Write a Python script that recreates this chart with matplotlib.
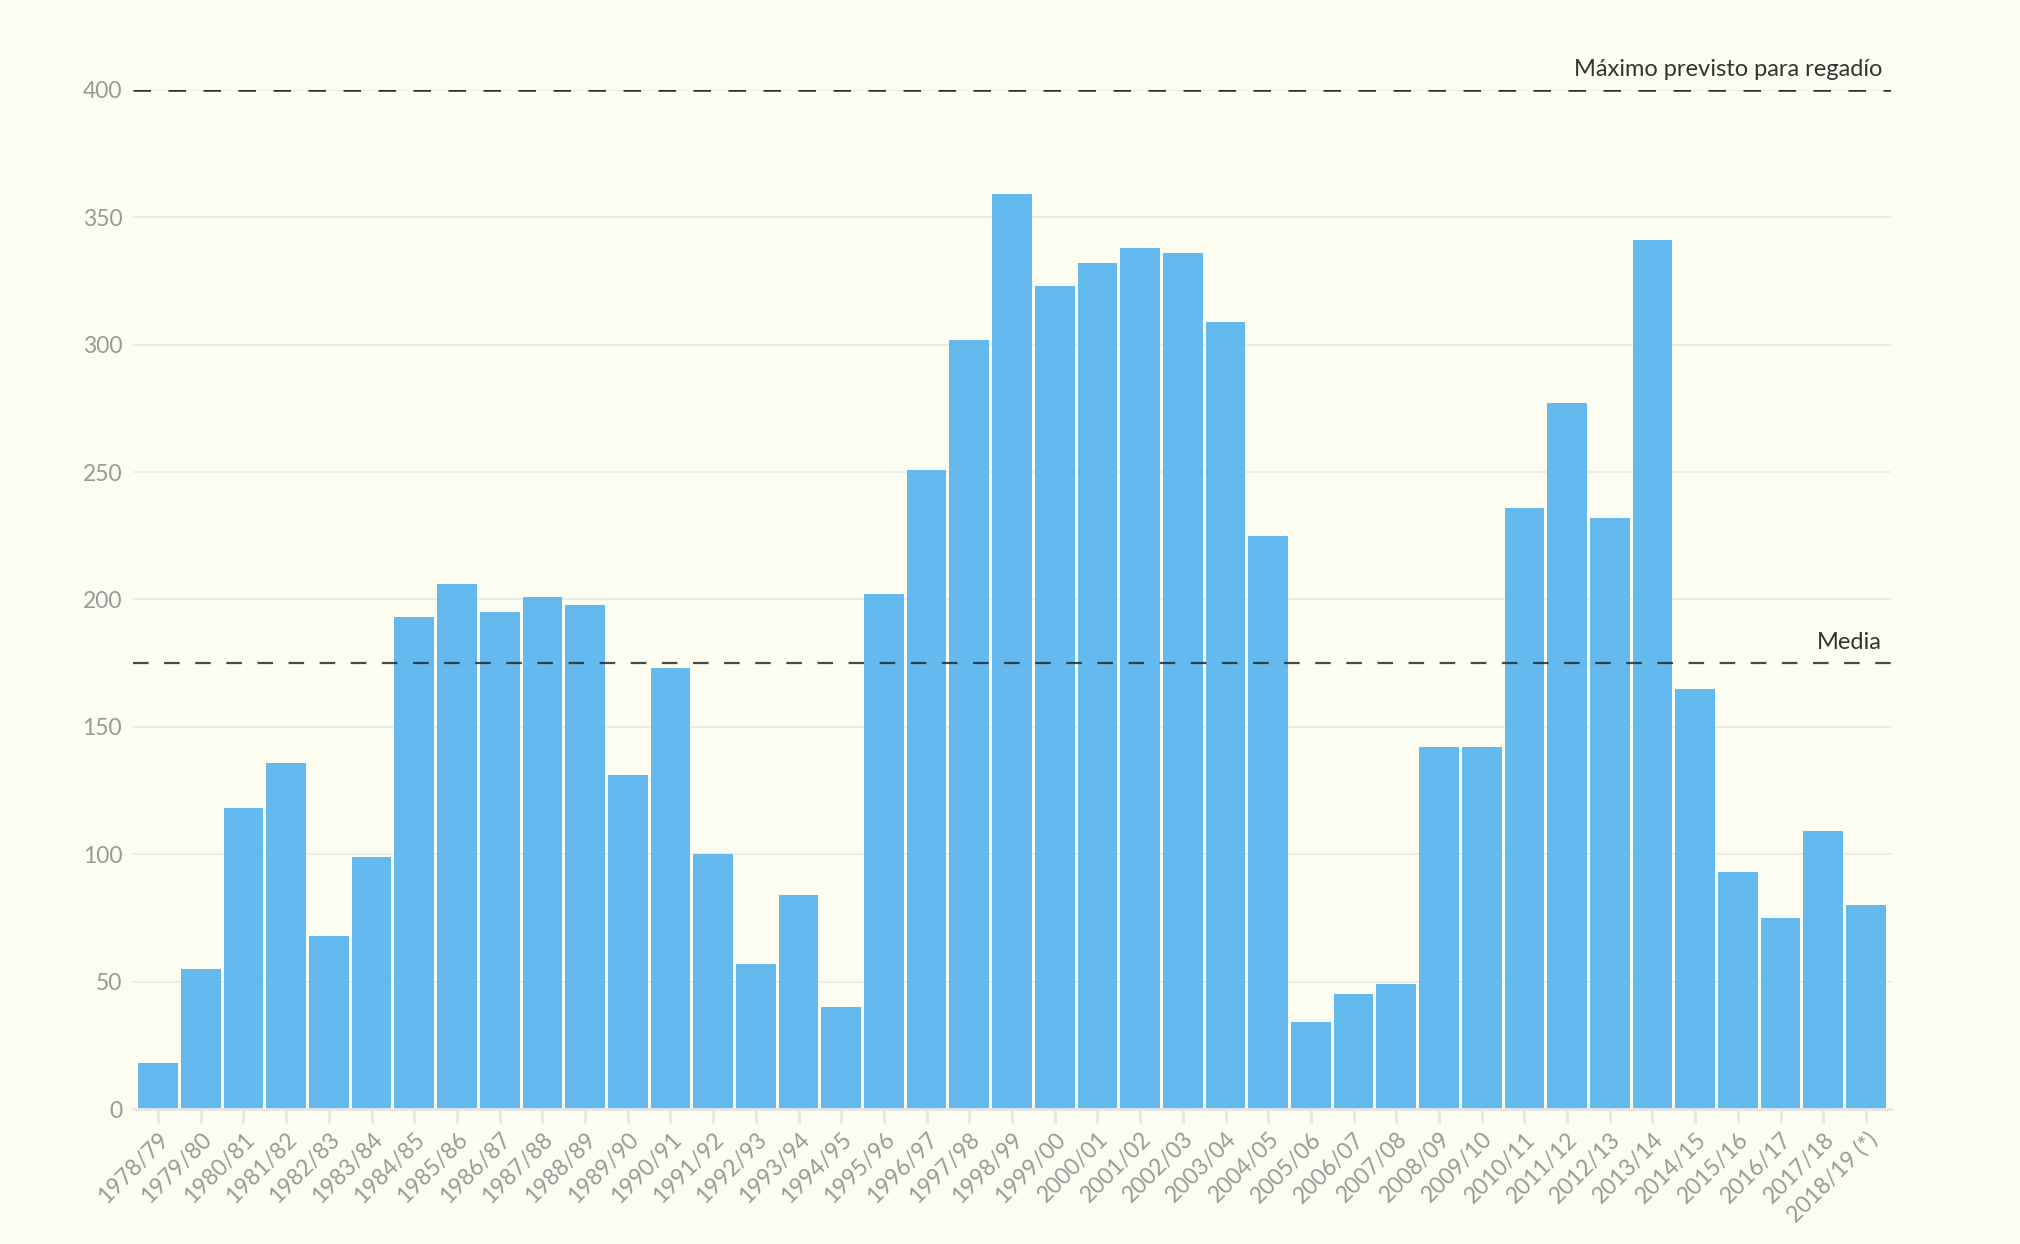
import matplotlib.pyplot as plt

# datos (hm3 por campaña)
campanas = ["1978/79", "1979/80", "1980/81", "1981/82", "1982/83", "1983/84", "1984/85",
            "1985/86", "1986/87", "1987/88", "1988/89", "1989/90", "1990/91", "1991/92",
            "1992/93", "1993/94", "1994/95", "1995/96", "1996/97", "1997/98", "1998/99",
            "1999/00", "2000/01", "2001/02", "2002/03", "2003/04", "2004/05", "2005/06",
            "2006/07", "2007/08", "2008/09", "2009/10", "2010/11", "2011/12", "2012/13",
            "2013/14", "2014/15", "2015/16", "2016/17", "2017/18", "2018/19 (*)"]
valores = [18, 55, 118, 136, 68, 99, 193, 206, 195, 201, 198, 131, 173, 100,
           57, 84, 40, 202, 251, 302, 359, 323, 332, 338, 336, 309, 225, 34,
           45, 49, 142, 142, 236, 277, 232, 341, 165, 93, 75, 109, 80]
media = 175
maximo = 400
yticks = [0, 50, 100, 150, 200, 250, 300, 350, 400]

bg = "#fcfdf0"
plt.rcParams["font.family"] = ["Lato", "DejaVu Sans"]

fig = plt.figure(figsize=(20.2, 12.44), dpi=100, facecolor=bg)
ax = fig.add_axes([0.066, 0.1085, 0.87, 0.8192])
ax.set_facecolor(bg)

x = list(range(len(campanas)))
ax.bar(x, valores, width=0.93, color="#64baee", zorder=2)

# líneas de referencia
ax.axhline(maximo, color="#2a2a2a", lw=1.8, ls=(0, (7, 7)), zorder=3)
ax.axhline(media, color="#2a2a2a", lw=1.6, ls=(0, (7, 7)), alpha=0.85, zorder=3)
ax.text(40.38, maximo + 4, "Máximo previsto para regadío", ha="right", va="bottom",
        fontsize=17, color="#333333")
ax.text(40.38, media + 4, "Media", ha="right", va="bottom", fontsize=17, color="#333333")

ax.set_xlim(-0.58, 40.58)
ax.set_ylim(0, 400)
ax.set_yticks(yticks)
ax.set_yticklabels([str(v) for v in yticks])
ax.set_xticks(x)
ax.set_xticklabels(campanas, rotation=45, ha="right", rotation_mode="anchor")

ax.grid(axis="y", color="#e9e9e9", lw=1.2, zorder=0)
for s in ["top", "right", "left"]:
    ax.spines[s].set_visible(False)
ax.spines["bottom"].set_color("#e6e6e6")
ax.spines["bottom"].set_linewidth(2)
ax.spines["bottom"].set_zorder(3)

ax.tick_params(axis="y", length=0, pad=8, labelsize=16.5, labelcolor="#999999")
ax.tick_params(axis="x", length=10, width=2, color="#e6e6e6", pad=4,
               labelsize=16.5, labelcolor="#999999")

plt.savefig("out.png", dpi=100, facecolor=bg)
